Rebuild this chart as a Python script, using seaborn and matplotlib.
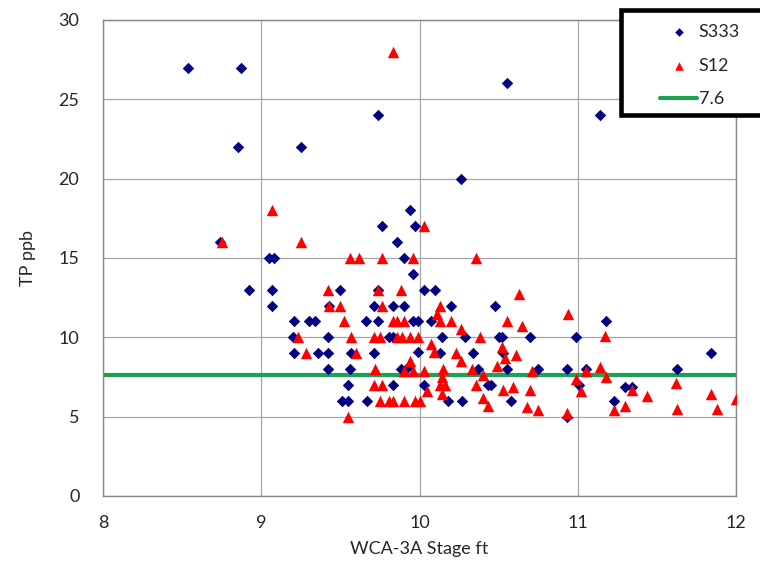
import matplotlib
matplotlib.use("Agg")
import matplotlib.pyplot as plt
from matplotlib.patches import Rectangle
import seaborn as sns
import pandas as pd

# ---------------- data ----------------
s333_x = [8.54, 8.87, 8.85, 9.25, 9.74, 10.55, 11.14, 10.26,
          8.74, 9.05, 9.08, 8.92, 9.07, 9.07,
          9.94, 9.76, 9.97, 9.86, 9.90, 9.96, 9.50, 9.74, 10.03, 10.10,
          9.43, 9.71, 9.83, 9.90, 10.20, 10.48,
          9.21, 9.30, 9.34, 9.66, 9.74, 9.96, 9.99, 10.07, 11.18,
          9.20, 9.42, 9.81, 9.83, 10.14, 10.29, 10.50, 10.52, 10.70, 10.99,
          9.21, 9.36, 9.42, 9.57, 9.71, 9.99, 10.13, 10.34, 10.53, 11.84,
          9.42, 9.56, 9.88, 9.93, 10.37, 10.55, 10.75, 10.93, 11.05, 11.63,
          9.55, 9.83, 10.03, 10.43, 10.45, 11.01, 11.30, 11.34,
          9.51, 9.55, 9.67, 10.18, 10.27, 10.58, 11.23,
          10.93]
s333_y = [27, 27, 22, 22, 24, 26, 24, 20,
          16, 15, 15, 13, 13, 12,
          18, 17, 17, 16, 15, 14, 13, 13, 13, 13,
          12, 12, 12, 12, 12, 12,
          11, 11, 11, 11, 11, 11, 11, 11, 11,
          10, 10, 10, 10, 10, 10, 10, 10, 10, 10,
          9, 9, 9, 9, 9, 9.1, 9, 9, 9, 9,
          8, 8, 8, 8.1, 8, 8, 8, 8, 8, 8,
          7, 7, 7, 7, 7, 7, 6.9, 6.9,
          6, 6, 6, 6, 6, 6, 6,
          5]

s12_x = [9.83, 9.07, 8.75, 9.25, 10.03, 9.56, 9.62, 9.76, 9.96, 10.36,
         9.42, 9.74, 9.88, 10.63,
         9.43, 9.50, 9.76, 10.13,
         10.11, 10.94,
         9.52, 9.83, 9.86, 9.90, 10.13, 10.20, 10.55,
         10.26, 10.65,
         9.23, 9.57, 9.71, 9.75, 9.86, 9.89, 9.94, 9.99, 10.38, 11.17,
         10.07, 10.52, 10.09,
         9.28, 9.60, 10.23, 10.61, 10.54,
         9.94, 10.26,
         9.72, 9.90, 9.96, 10.03, 10.15, 10.33, 10.49, 10.71, 11.05, 11.14,
         10.40, 11.18, 10.99, 10.14,
         9.71, 9.76, 10.13, 10.16, 10.36, 10.59, 11.62,
         10.53, 10.70, 11.02, 11.34, 10.05, 10.14, 11.44, 11.84,
         9.75, 9.81, 9.83, 9.90, 9.97, 10.00, 10.40, 12.00,
         10.43, 10.68, 11.30, 10.75, 11.23, 11.63, 11.88, 10.93,
         9.55]
s12_y = [28, 18, 16, 16, 17, 15, 15, 15, 15, 15,
         13, 13, 13, 12.7,
         12, 12, 12, 12,
         11.5, 11.5,
         11, 11, 11, 11, 11, 11, 11,
         10.5, 10.7,
         10, 10, 10, 10, 10, 10, 10, 10, 10, 10.1,
         9.6, 9.4, 9.1,
         9, 9, 9, 8.9, 8.7,
         8.5, 8.5,
         8, 7.9, 7.9, 7.9, 8, 8, 8.2, 7.9, 7.9, 8.1,
         7.6, 7.5, 7.4, 7.5,
         7, 7, 7, 7, 7, 6.9, 7.1,
         6.7, 6.7, 6.6, 6.7, 6.6, 6.4, 6.3, 6.4,
         6, 6, 6, 6, 6, 6, 6.2, 6.1,
         5.7, 5.6, 5.7, 5.4, 5.4, 5.5, 5.5, 5.2,
         5]

target = 7.6
x_ticks = [8, 9, 10, 11, 12]
y_ticks = [0, 5, 10, 15, 20, 25, 30]

df333 = pd.DataFrame({"stage": s333_x, "tp": s333_y})
df12 = pd.DataFrame({"stage": s12_x, "tp": s12_y})

# ---------------- style ----------------
sns.set_style("white")
plt.rcParams["font.family"] = ["Lato", "DejaVu Sans"]
text_col = "#262626"
axis_col = "#868686"
fs = 13

fig = plt.figure(figsize=(7.6, 5.65), dpi=100)
ax = fig.add_axes([103 / 760, 1 - 496 / 565, (736 - 103) / 760, (496 - 20) / 565])

ax.axhline(target, color="#1fa055", lw=3.0, label="7.6", zorder=1.5)
sns.scatterplot(data=df333, x="stage", y="tp", marker="D", color="#000080",
                s=34, linewidth=0, label="S333", ax=ax, zorder=3)
sns.scatterplot(data=df12, x="stage", y="tp", marker="^", color="#ff0000",
                s=68, linewidth=0, label="S12", ax=ax, zorder=4)

ax.set_xlim(8, 12)
ax.set_ylim(0, 30)
ax.set_xticks(x_ticks)
ax.set_yticks(y_ticks)
ax.grid(True, color="#a6a6a6", lw=0.9)
ax.set_axisbelow(True)
for sp in ax.spines.values():
    sp.set_color(axis_col)
    sp.set_linewidth(1.0)
    sp.set_visible(True)

ax.tick_params(axis="both", direction="out", length=5, color=axis_col,
               labelsize=fs, labelcolor=text_col, width=1)
ax.tick_params(axis="y", pad=12)
ax.tick_params(axis="x", pad=9)
ax.set_xlabel("WCA-3A Stage ft", fontsize=fs, color=text_col, labelpad=7)
ax.set_ylabel("TP ppb", fontsize=fs, color=text_col, labelpad=16)

if ax.get_legend() is not None:
    ax.get_legend().remove()

# legend box (thick black frame, partly beyond figure edge)
rect = Rectangle((620.5 / 760, 1 - 114.5 / 565), (790 - 620.5) / 760, (114.5 - 9.7) / 565,
                 transform=fig.transFigure, facecolor="white", edgecolor="black",
                 lw=3.3, zorder=3, clip_on=False)
fig.add_artist(rect)

h, l = ax.get_legend_handles_labels()
order = [l.index("S333"), l.index("S12"), l.index("7.6")]
leg = fig.legend([h[i] for i in order], [l[i] for i in order],
                 loc="upper left", bbox_to_anchor=(651 / 760, 1 - 15 / 565),
                 frameon=False, handlelength=2.05, handletextpad=0.1,
                 labelspacing=0.97, borderpad=0, fontsize=fs, markerscale=0.75)
leg.set_zorder(6)
for t in leg.get_texts():
    t.set_color(text_col)

fig.savefig("out.png", dpi=100)
